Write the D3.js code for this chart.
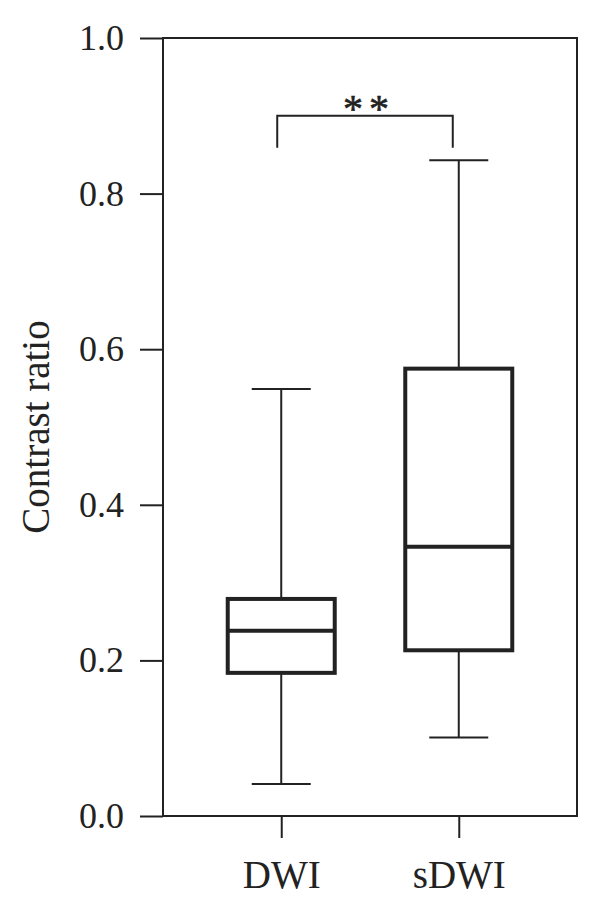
<!DOCTYPE html>
<html><head><meta charset="utf-8">
<script src="https://cdn.jsdelivr.net/npm/d3@7"></script>
<style>body{margin:0;background:#fff}</style>
</head><body>
<svg id="c" width="600" height="910"></svg>
<script>
const categories = ["DWI", "sDWI"];
const mins    = [0.041, 0.101];
const q1s     = [0.184, 0.213];
const medians = [0.238, 0.346];
const q3s     = [0.279, 0.575];
const maxs    = [0.549, 0.843];
const yTicks  = [0.0, 0.2, 0.4, 0.6, 0.8, 1.0];
const yLabel  = "Contrast ratio";
const sigLabel = "**";
const sigY = [0.9, 0.859];

const svg = d3.select("#c");
const L = 163, R = 577, T = 38, B = 816;
const font = "'Liberation Serif', 'Times New Roman', serif";
const ink = "#222";

const y = d3.scaleLinear().domain([0, 1]).range([B, T]);
const x = d3.scalePoint().domain(categories).range([L, R]).padding(0.666);

// frame
svg.append("rect").attr("x", L).attr("y", T).attr("width", R - L).attr("height", B - T)
  .attr("fill", "none").attr("stroke", ink).attr("stroke-width", 2);

// y axis
const ya = svg.append("g").attr("transform", `translate(${L},0)`)
  .call(d3.axisLeft(y).tickValues(yTicks).tickFormat(d3.format(".1f")).tickSize(23).tickPadding(16));
ya.select(".domain").remove();
ya.selectAll("line").attr("stroke", ink).attr("stroke-width", 2);
ya.selectAll("text").attr("font-family", font).attr("font-size", 36).attr("fill", ink);

// x axis
const xa = svg.append("g").attr("transform", `translate(0,${B})`)
  .call(d3.axisBottom(x).tickSize(22).tickPadding(22));
xa.select(".domain").remove();
xa.selectAll("line").attr("stroke", ink).attr("stroke-width", 2);
xa.selectAll("text").attr("font-family", font).attr("font-size", 39).attr("fill", ink);

// y label
svg.append("text").attr("transform", `translate(49,${(T + B) / 2}) rotate(-90)`)
  .attr("text-anchor", "middle").attr("font-family", font).attr("font-size", 39)
  .attr("fill", ink).text(yLabel);

// boxes
const bw = 107, cw = 59;
const data = categories.map((c, i) => ({c, min: mins[i], q1: q1s[i], med: medians[i], q3: q3s[i], max: maxs[i]}));
const g = svg.append("g").selectAll("g").data(data).join("g");
g.append("line").attr("x1", d => x(d.c)).attr("x2", d => x(d.c))
  .attr("y1", d => y(d.max)).attr("y2", d => y(d.q3)).attr("stroke", ink).attr("stroke-width", 2);
g.append("line").attr("x1", d => x(d.c)).attr("x2", d => x(d.c))
  .attr("y1", d => y(d.q1)).attr("y2", d => y(d.min)).attr("stroke", ink).attr("stroke-width", 2);
g.append("line").attr("x1", d => x(d.c) - cw / 2).attr("x2", d => x(d.c) + cw / 2)
  .attr("y1", d => y(d.max)).attr("y2", d => y(d.max)).attr("stroke", ink).attr("stroke-width", 2);
g.append("line").attr("x1", d => x(d.c) - cw / 2).attr("x2", d => x(d.c) + cw / 2)
  .attr("y1", d => y(d.min)).attr("y2", d => y(d.min)).attr("stroke", ink).attr("stroke-width", 2);
g.append("rect").attr("x", d => x(d.c) - bw / 2).attr("width", bw)
  .attr("y", d => y(d.q3)).attr("height", d => y(d.q1) - y(d.q3))
  .attr("fill", "none").attr("stroke", ink).attr("stroke-width", 4);
g.append("line").attr("x1", d => x(d.c) - bw / 2).attr("x2", d => x(d.c) + bw / 2)
  .attr("y1", d => y(d.med)).attr("y2", d => y(d.med)).attr("stroke", ink).attr("stroke-width", 4);

// significance bracket
const x0 = x(categories[0]) - 4, x1 = x(categories[1]) - 6;
svg.append("path")
  .attr("d", `M${x0},${y(sigY[1])}V${y(sigY[0])}H${x1}V${y(sigY[1])}`)
  .attr("fill", "none").attr("stroke", ink).attr("stroke-width", 2);
svg.append("text").attr("x", (x0 + x1) / 2 + 4).attr("y", y(sigY[0]) + 6)
  .attr("text-anchor", "middle").attr("font-family", font).attr("font-size", 40)
  .attr("letter-spacing", 6).attr("stroke", ink).attr("stroke-width", 0.6)
  .attr("fill", ink).text(sigLabel);
</script>
</body></html>
